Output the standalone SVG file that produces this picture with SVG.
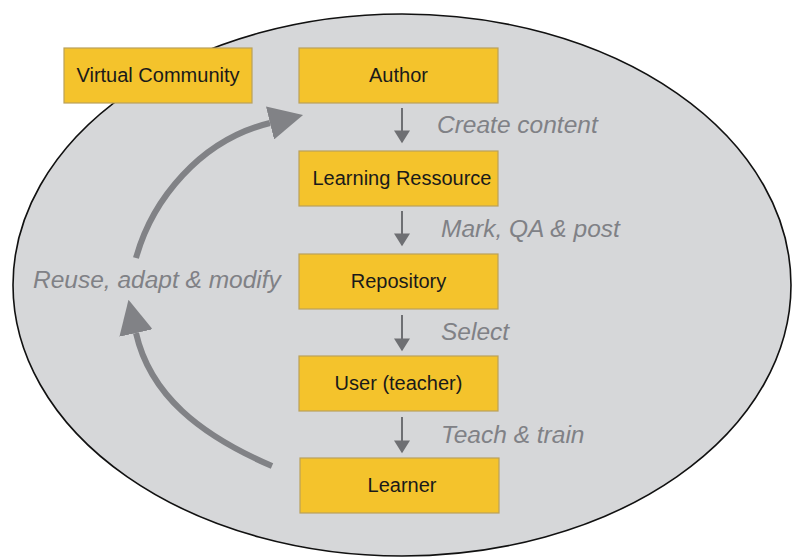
<svg xmlns="http://www.w3.org/2000/svg" width="792" height="557" viewBox="0 0 792 557">
<style>
.box{fill:#f4c32c;stroke:#b9a15a;stroke-width:1.2}
.bt{font-family:"Liberation Sans",Arial,sans-serif;font-size:20px;fill:#1a1a1a;text-anchor:middle}
.lbl{font-family:"Liberation Sans",Arial,sans-serif;font-size:24.5px;font-style:italic;fill:#808186}
.big{fill:none;stroke:#818286;stroke-width:6}
.small{fill:none;stroke:#6e6f73;stroke-width:2}
</style>
<defs>
<marker id="bigHead" markerUnits="userSpaceOnUse" markerWidth="34" markerHeight="34" viewBox="0 0 32 32" refX="0" refY="16" orient="auto">
<path d="M0,0 L32,16 L0,32 Z" fill="#818286"/>
</marker>
<marker id="smallHead" markerUnits="userSpaceOnUse" markerWidth="16" markerHeight="16" viewBox="0 0 11 14" refX="10" refY="7" orient="auto">
<path d="M0,0 L11,7 L0,14 Z" fill="#6e6f73"/>
</marker>
</defs>
<rect width="792" height="557" fill="#ffffff"/>
<ellipse id="community" cx="402" cy="285" rx="389" ry="271" fill="#d6d7d9" stroke="#111" stroke-width="1.6"/>
<g id="connectors">
<path class="big" d="M136,258 C152,200 200,140 270,123" marker-end="url(#bigHead)"/>
<path class="big" d="M272,466 C200,435 150,395 136,333" marker-end="url(#bigHead)"/>
<line class="small" x1="402" y1="108" x2="402" y2="142" marker-end="url(#smallHead)"/>
<line class="small" x1="402" y1="211" x2="402" y2="245" marker-end="url(#smallHead)"/>
<line class="small" x1="402" y1="315" x2="402" y2="350" marker-end="url(#smallHead)"/>
<line class="small" x1="402" y1="417" x2="402" y2="452" marker-end="url(#smallHead)"/>
<text class="lbl" x="437" y="133">Create content</text>
<text class="lbl" x="441" y="237">Mark, QA &amp; post</text>
<text class="lbl" x="441" y="340">Select</text>
<text class="lbl" x="441" y="443">Teach &amp; train</text>
<text class="lbl" x="33" y="288">Reuse, adapt &amp; modify</text>
</g>
<g id="virtual-community"><rect class="box" x="64" y="48" width="188" height="55"/><text class="bt" x="158" y="82">Virtual Community</text></g>
<g id="author"><rect class="box" x="299" y="48" width="199" height="55"/><text class="bt" x="398.5" y="82">Author</text></g>
<g id="learning-ressource"><rect class="box" x="299" y="151" width="199" height="55"/><text class="bt" x="402" y="185">Learning Ressource</text></g>
<g id="repository"><rect class="box" x="299" y="254" width="199" height="55"/><text class="bt" x="398.5" y="288">Repository</text></g>
<g id="user"><rect class="box" x="299" y="356" width="199" height="55"/><text class="bt" x="398.5" y="390">User (teacher)</text></g>
<g id="learner"><rect class="box" x="300" y="458" width="199" height="55"/><text class="bt" x="402" y="492">Learner</text></g>
</svg>
